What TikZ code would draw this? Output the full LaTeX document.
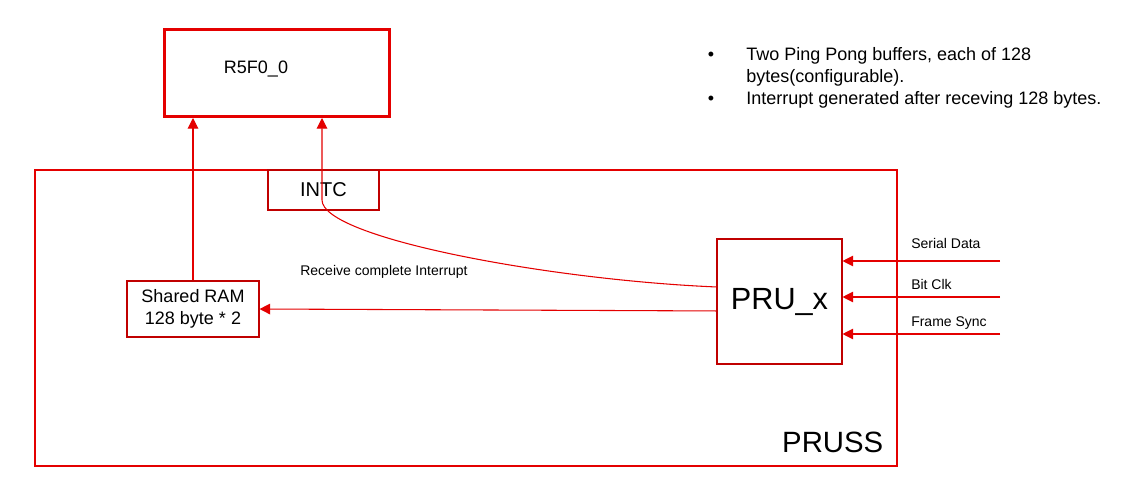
\documentclass[tikz,border=0pt]{standalone}
\usepackage{fontspec}
\setmainfont{Liberation Sans}
\usetikzlibrary{positioning, calc, arrows.meta}
\definecolor{prRed}{RGB}{228,0,0}
\definecolor{prDarkRed}{RGB}{192,0,0}

\begin{document}
\begin{tikzpicture}[x=0.75pt, y=-0.75pt,
    blk/.style={draw=prDarkRed, line width=0.8pt, inner sep=0pt, align=center},
    sig/.style={draw=prRed, line width=0.8pt, -{Triangle[length=8pt, width=8pt]}},
    lbl/.style={font=\fontsize{10.5}{12.5}\selectfont, inner sep=0pt},
    txt/.style={font=\fontsize{13.5}{16.5}\selectfont, inner sep=0pt}]
  \useasboundingbox (0,0) rectangle (1124,496);

  % subsystem frame
  \node[draw=prRed, line width=0.8pt, minimum width=646.5pt, minimum height=222pt] (pruss) at (466,318) {};
  \node[font=\fontsize{22}{26}\selectfont, anchor=base east, inner sep=0pt] (prusslbl) at ([shift={(-14,-14)}]pruss.south east) {PRUSS};

  % blocks
  \node[draw=prRed, line width=2.25pt, minimum width=168.75pt, minimum height=65.25pt] (r5f) at (277,73) {};
  \node[txt] (r5flbl) at (256,69) {R5F0\_0};
  \node[blk, minimum width=83.25pt, minimum height=30pt, font=\fontsize{15}{18}\selectfont] (intc) at (323.5,190) {INTC};
  \node[blk, txt, minimum width=99pt, minimum height=42pt] (ram) at (193,309) {Shared RAM\\128 byte * 2};
  \node[blk, minimum width=93.75pt, minimum height=93.75pt, font=\fontsize{23}{27}\selectfont] (pru) at (779.5,301.5) {PRU\_x};

  % connectors
  \draw[sig] (ram.north) -- (ram.north |- r5f.south);
  \coordinate (bend) at (322,200);
  \draw[sig] ([yshift=10.9pt]pru.west) .. controls (550,280) and (322,238) .. (bend) -- (bend |- r5f.south);
  \node[lbl] (irqlbl) at (384,272) {Receive complete Interrupt};
  \draw[sig] ([yshift=-7.1pt]pru.west) -- (ram.east);

  % inputs
  \foreach \yy/\name/\ly in {261/Serial Data/243, 297/Bit Clk/284, 334/Frame Sync/323} {
    \coordinate (src\yy) at (1000,\yy);
    \draw[sig] (src\yy) -- (src\yy -| pru.east);
    \node[lbl, anchor=west] (in\yy) at (911,\ly) {\name};
  }

  % notes
  \node[txt, anchor=base] (dot1) at (711,60) {•};
  \node[txt, anchor=north west, align=left] (note1) at (746,47) {Two Ping Pong buffers, each of 128\\bytes(configurable).};
  \node[txt, anchor=base] (dot2) at (711,104) {•};
  \node[txt, anchor=base west] (note2) at (746,104) {Interrupt generated after receving 128 bytes.};
\end{tikzpicture}
\end{document}
